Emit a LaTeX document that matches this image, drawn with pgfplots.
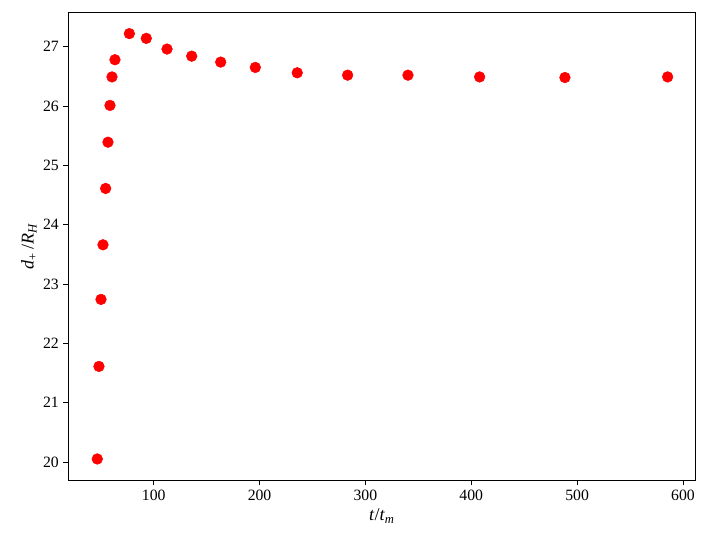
\documentclass[border=0pt]{standalone}
\usepackage{fontspec}
\setmainfont{Liberation Serif}
\usepackage{pgfplots}
\pgfplotsset{compat=1.18}
\begin{document}
\begin{tikzpicture}
\begin{axis}[
  scale only axis,
  width=470.5pt, height=351pt,
  xmin=19.3, xmax=612,
  ymin=19.69, ymax=27.58,
  xtick={100,200,300,400,500,600},
  ytick={20,21,22,23,24,25,26,27},
  tick align=outside,
  tick pos=left,
  major tick length=3.6pt,
  tick style={black, line width=0.6pt},
  axis line style={black, line width=0.6pt},
  /pgf/number format/assume math mode=true,
  /pgf/number format/1000 sep={},
  tick label style={font=\fontsize{11.8}{13}\selectfont},
  label style={font=\fontsize{13.5}{15}\selectfont},
  xlabel={\textit{t}/\textit{t}\textsubscript{\textit{m}}},
  ylabel={\textit{d}\textsubscript{+}\,/\textit{R}\textsubscript{\textit{H}}},
  xlabel style={yshift=1pt},
  ylabel style={yshift=-2pt},
  clip=false,
]
\addplot[only marks, mark=*, mark size=4pt, color=red, mark options={draw=red, fill=red}] coordinates {
(46.7,20.05) (48.3,21.61) (50.2,22.74) (52.1,23.66) (54.6,24.61) (56.8,25.39)
(58.7,26.01) (60.6,26.49) (63.4,26.78) (77.0,27.22) (93.0,27.14) (112.6,26.96)
(135.9,26.84) (163.3,26.74) (196.0,26.65) (235.6,26.56) (283.2,26.52)
(340.2,26.52) (407.9,26.49) (488.5,26.48) (585.5,26.49)
};
\path (rel axis cs:0,0) ++(-51.2pt,-51pt) coordinate (bbsw);
\path (rel axis cs:1,1) ++(10pt,9.2pt) coordinate (bbne);
\path (bbsw) (bbne);
\end{axis}
\end{tikzpicture}
\end{document}
